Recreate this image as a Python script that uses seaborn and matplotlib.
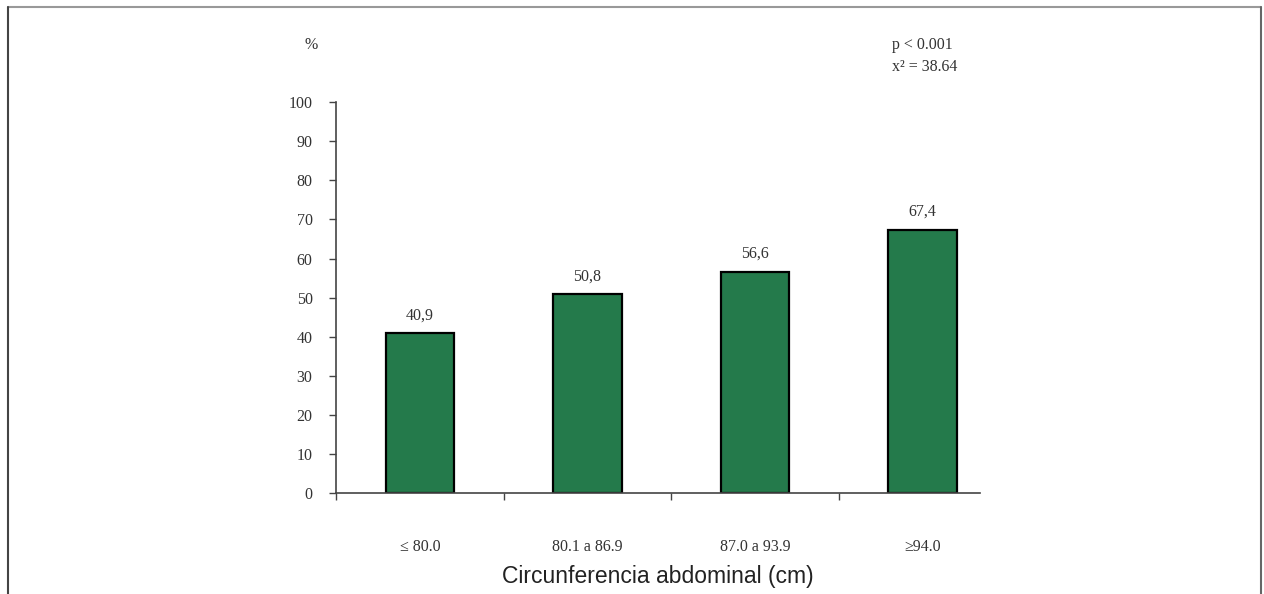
import matplotlib
matplotlib.use("Agg")
import matplotlib.pyplot as plt
from matplotlib.lines import Line2D
from matplotlib.ticker import FixedLocator
import pandas as pd
import seaborn as sns

sns.set_theme(style="white")

categorias = ["≤ 80.0", "80.1 a 86.9", "87.0 a 93.9", "≥94.0"]
porcentajes = [40.9, 50.8, 56.6, 67.4]
etiquetas = ["40,9", "50,8", "56,6", "67,4"]
yticks = [0, 10, 20, 30, 40, 50, 60, 70, 80, 90, 100]

df = pd.DataFrame({"cat": categorias, "pct": porcentajes})

serif = ["Liberation Serif", "DejaVu Serif"]
gris = "#333333"

fig = plt.figure(figsize=(12.64, 5.94), dpi=100)
ax = fig.add_axes([0.266, 0.170, 0.509, 0.658])

sns.barplot(data=df, x="cat", y="pct", color="#247a4b", saturation=1,
            width=0.41, edgecolor="black", linewidth=1.6, ax=ax)

for i, (v, t) in enumerate(zip(porcentajes, etiquetas)):
    ax.annotate(t, (i, v), xytext=(0, 7), textcoords="offset points",
                ha="center", va="bottom", fontsize=11.5, family=serif, color=gris)

ax.set_ylim(0, 100)
ax.set_xlim(-0.5, 3.34)
ax.set_yticks(yticks)
ax.set_yticklabels([str(v) for v in yticks], family=serif, fontsize=11.5, color=gris)
ax.set_xticklabels(categorias, family=serif, fontsize=11.5, color=gris)
ax.xaxis.set_minor_locator(FixedLocator([-0.5, 0.5, 1.5, 2.5]))
ax.tick_params(axis="x", which="major", length=0, pad=33)
ax.tick_params(axis="x", which="minor", length=5, width=1, color="#444444", direction="out", bottom=True)
ax.tick_params(axis="y", length=5, width=1, color="#444444", direction="out", left=True, pad=12)

for s in ["top", "right"]:
    ax.spines[s].set_visible(False)
for s in ["left", "bottom"]:
    ax.spines[s].set_color("#444444")
    ax.spines[s].set_linewidth(1.2)

ax.set_xlabel("Circunferencia abdominal (cm)", family=["Liberation Sans", "DejaVu Sans"],
              fontsize=16.5, color="#222222", labelpad=7)
ax.set_ylabel("")

fig.text(0.241, 0.925, "%", family=serif, fontsize=11.5, color=gris, ha="left", va="center")
fig.text(0.706, 0.925, "p < 0.001", family=serif, fontsize=11.5, color=gris, ha="left", va="center")
fig.text(0.706, 0.888, "x² = 38.64", family=serif, fontsize=11.5, color=gris, ha="left", va="center")

# marco exterior
fig.add_artist(Line2D([0.006, 0.998], [0.988, 0.988], color="#999999", lw=1.5, transform=fig.transFigure))
fig.add_artist(Line2D([0.006, 0.006], [0.0, 0.988], color="#444444", lw=1.5, transform=fig.transFigure))
fig.add_artist(Line2D([0.998, 0.998], [0.0, 0.988], color="#666666", lw=1.5, transform=fig.transFigure))

fig.savefig("out.png", dpi=100)
